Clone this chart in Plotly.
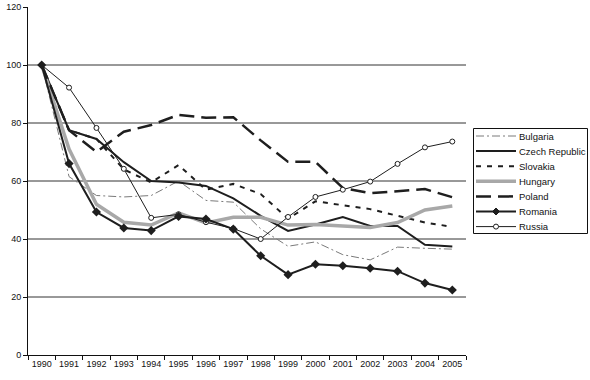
import plotly.graph_objects as go

years = [str(y) for y in range(1990, 2006)]

bulgaria = [100, 61.5, 55, 54.5, 55, 60, 53.3, 52.7, 43.5, 37.5, 39, 34.6, 32.8, 37.2, 36.8, 36.5]
czech = [100, 77.5, 74.5, 66.5, 60, 59.5, 58.3, 54, 48, 42.8, 45, 47.6, 44.5, 44.5, 38, 37.4]
slovakia = [100, 77.5, 74.5, 64, 59.5, 65.5, 57, 59, 55.5, 47, 53, 51.7, 50.3, 48, 45.7, 44.2]
hungary = [100, 71, 52, 45.8, 44.8, 49, 45.5, 47.5, 47.5, 44.8, 45, 44.6, 44, 45.7, 50, 51.4]
poland = [100, 77.5, 70, 77, 79.3, 82.8, 81.8, 82, 74, 66.6, 66.6, 57.6, 55.8, 56.6, 57.2, 54.4]
romania = [100, 66, 49.3, 43.8, 42.9, 47.8, 46.9, 43.4, 34.2, 27.7, 31.3, 30.8, 29.9, 28.9, 24.8, 22.4]
russia = [100, 92.2, 78.3, 64.2, 47.3, 48.5, 45.8, 43.6, 40, 47.6, 54.5, 57, 59.8, 65.9, 71.6, 73.6]

y_ticks = [0, 20, 40, 60, 80, 100, 120]
grid_levels = [20, 40, 60, 80, 100]

BLK = "#1e1e1e"
W, H = 590, 380
ML, MR, MT, MB = 28, 124, 7, 25
PW, PH = W - ML - MR, H - MT - MB

styles = [
    ("Bulgaria", bulgaria, dict(color="#7a7a7a", width=1, dash="8px,3px,2px,3px"), None),
    ("Czech Republic", czech, dict(color=BLK, width=2), None),
    ("Slovakia", slovakia, dict(color=BLK, width=2, dash="5px,6px"), None),
    ("Hungary", hungary, dict(color="#a8a8a8", width=3.5), None),
    ("Poland", poland, dict(color=BLK, width=2.5, dash="15px,7px"), None),
    ("Romania", romania, dict(color=BLK, width=2), "diamond"),
    ("Russia", russia, dict(color=BLK, width=1), "circle"),
]

# draw order: Russia below Romania so the 1990 diamond stays visible
draw_order = [0, 1, 2, 3, 4, 6, 5]

fig = go.Figure()
for idx in draw_order:
    name, vals, line, sym = styles[idx]
    if sym == "diamond":
        fig.add_trace(go.Scatter(x=years, y=vals, name=name, mode="lines+markers", line=line,
                                 marker=dict(symbol="diamond", size=7, color=BLK)))
    elif sym == "circle":
        fig.add_trace(go.Scatter(x=years, y=vals, name=name, mode="lines+markers", line=line,
                                 marker=dict(symbol="circle", size=5, color="white",
                                             line=dict(color=BLK, width=1))))
    else:
        fig.add_trace(go.Scatter(x=years, y=vals, name=name, mode="lines", line=line))

for g in grid_levels:
    fig.add_shape(type="line", xref="paper", x0=0, x1=1, yref="y", y0=g, y1=g,
                  line=dict(color="#333333", width=1), layer="below")


def px(x):
    return (x - ML) / PW


def py(y):
    return (H - MB - y) / PH


# hand-built legend (compact spacing like the reference)
fig.add_shape(type="rect", xref="paper", yref="paper",
              x0=px(473.5), x1=px(587.5), y0=py(128.5), y1=py(233.5),
              line=dict(color="#111", width=1), fillcolor="white", layer="above")
for i, (name, vals, line, sym) in enumerate(styles):
    yy = 136 + 15.1 * i
    fig.add_shape(type="line", xref="paper", yref="paper",
                  x0=px(476), x1=px(516), y0=py(yy), y1=py(yy),
                  line=line, layer="above")
    if sym == "diamond":
        cx, r = 496, 3.5
        fig.add_shape(type="path", xref="paper", yref="paper",
                      path=f"M {px(cx)},{py(yy - r)} L {px(cx + r)},{py(yy)} L {px(cx)},{py(yy + r)} L {px(cx - r)},{py(yy)} Z",
                      fillcolor=BLK, line=dict(color=BLK, width=1), layer="above")
    elif sym == "circle":
        cx, r = 496, 2.5
        fig.add_shape(type="circle", xref="paper", yref="paper",
                      x0=px(cx - r), x1=px(cx + r), y0=py(yy - r), y1=py(yy + r),
                      fillcolor="white", line=dict(color=BLK, width=1), layer="above")
    fig.add_annotation(xref="paper", yref="paper", x=px(516.5), y=py(yy), text=name,
                       showarrow=False, xanchor="left", yanchor="middle",
                       font=dict(size=9.5, color="#111"))

fig.update_layout(
    width=W, height=H,
    margin=dict(l=ML, r=MR, t=MT, b=MB, autoexpand=False),
    paper_bgcolor="white", plot_bgcolor="white",
    font=dict(family="Liberation Sans, Arial, sans-serif", size=9, color="#111"),
    showlegend=False,
    xaxis=dict(type="category", range=[-0.5, 15.5], tickson="boundaries", tickangle=0,
               ticks="outside", ticklen=4, tickcolor="#111", showline=True,
               linecolor="#111", linewidth=1, showgrid=False, zeroline=False,
               tickfont=dict(size=9), automargin=False),
    yaxis=dict(range=[0, 120], tickvals=y_ticks, ticks="outside", ticklen=4,
               tickcolor="#111", showline=True, linecolor="#111", linewidth=1,
               showgrid=False, zeroline=False, tickfont=dict(size=9), automargin=False),
)

fig.write_html("out.html", config={"displayModeBar": False},
               post_script="document.body.style.margin='0px';")
